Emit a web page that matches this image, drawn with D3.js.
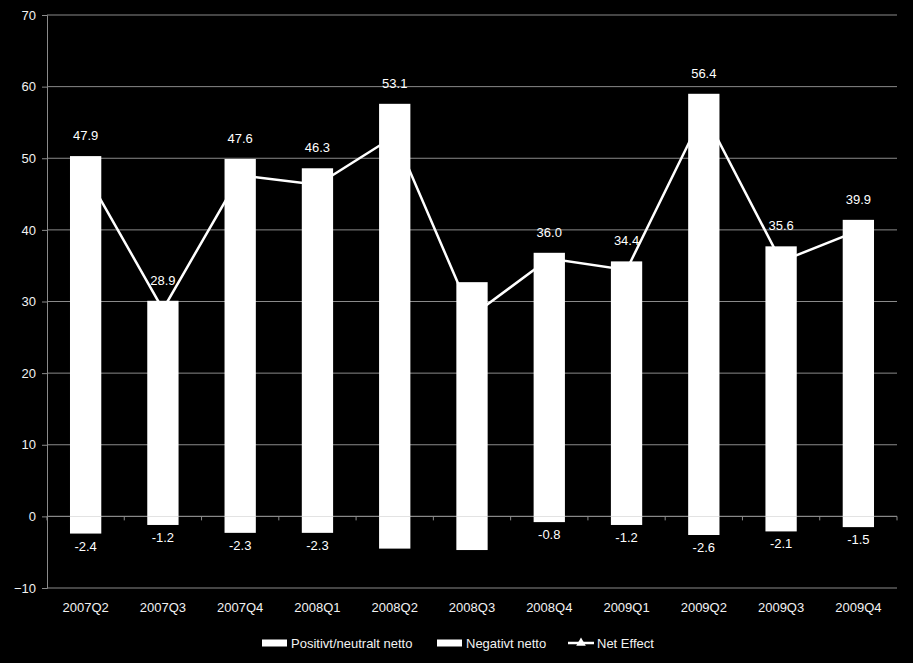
<!DOCTYPE html>
<html>
<head>
<meta charset="utf-8">
<script src="https://cdn.jsdelivr.net/npm/d3@7"></script>
<style>
  body { margin: 0; background: #000; }
  text { font-family: "Liberation Sans", Arial, sans-serif; }
</style>
</head>
<body>
<svg id="chart"></svg>
<script>
// data
const quarters = ["2007Q2", "2007Q3", "2007Q4", "2008Q1", "2008Q2", "2008Q3",
                  "2008Q4", "2009Q1", "2009Q2", "2009Q3", "2009Q4"];
const positive = [50.3, 30.1, 49.9, 48.6, 57.6, 32.7, 36.8, 35.6, 59.0, 37.7, 41.4];
const negative = [-2.4, -1.2, -2.3, -2.3, -4.5, -4.7, -0.8, -1.2, -2.6, -2.1, -1.5];
const netEffect = [47.9, 28.9, 47.6, 46.3, 53.1, 28.0, 36.0, 34.4, 56.4, 35.6, 39.9];
const showNetLabel = [true, true, true, true, true, false, true, true, true, true, true];
const showNegLabel = [true, true, true, true, false, false, true, true, true, true, true];
const yTicks = [-10, 0, 10, 20, 30, 40, 50, 60, 70];
const seriesNames = ["Positivt/neutralt netto", "Negativt netto", "Net Effect"];

// constants
const width = 913;
const height = 663;
const margin = { left: 47, right: 16, top: 15, bottom: 75 };
const visWidth = width - margin.left - margin.right;
const visHeight = height - margin.top - margin.bottom;

const svg = d3.select('svg#chart').attr('width', width).attr('height', height);
svg.append('rect').attr('width', width).attr('height', height).attr('fill', '#000');
const g = svg.append('g').attr('transform', 'translate(' + margin.left + ',' + margin.top + ')');

const x = d3.scaleBand().domain(quarters).range([0, visWidth]).paddingInner(0.595).paddingOuter(0.2975);
const y = d3.scaleLinear().domain([-10, 70]).range([visHeight, 0]);
const cx = i => x(quarters[i]) + x.bandwidth() / 2;
const idx = quarters.map((q, i) => i);

// gridlines
g.append('g').selectAll('line').data(yTicks).enter().append('line')
  .attr('x1', 0).attr('x2', visWidth)
  .attr('y1', d => y(d)).attr('y2', d => y(d))
  .attr('stroke', '#8a8a8a').attr('stroke-width', 1);

// y axis
const yAxis = g.append('g').call(d3.axisLeft(y).tickValues(yTicks).tickSize(5).tickFormat(d3.format('d')));
yAxis.selectAll('path, line').attr('stroke', '#8a8a8a');
yAxis.selectAll('text').attr('fill', '#f2f2f2').style('font-size', '13px').attr('x', -11);

// x axis on the zero line, ticks at band edges
const xAxisG = g.append('g').attr('transform', 'translate(0,' + y(0) + ')');
xAxisG.append('line').attr('x1', 0).attr('x2', visWidth).attr('stroke', '#8a8a8a');
const step = x.step();
xAxisG.selectAll('line.tick').data(d3.range(quarters.length + 1)).enter().append('line')
  .attr('class', 'tick')
  .attr('x1', i => i * step).attr('x2', i => i * step)
  .attr('y1', 0).attr('y2', 4).attr('stroke', '#8a8a8a');

// category labels at the bottom
g.append('g').selectAll('text').data(quarters).enter().append('text')
  .attr('x', d => x(d) + x.bandwidth() / 2)
  .attr('y', visHeight + 24)
  .attr('text-anchor', 'middle')
  .attr('fill', '#f2f2f2').style('font-size', '13px')
  .text(d => d);

// net effect line (drawn behind the bars)
const line = d3.line().x((d, i) => cx(i)).y(d => y(d));
g.append('path').datum(netEffect).attr('d', line)
  .attr('fill', 'none').attr('stroke', '#fff').attr('stroke-width', 2.5);
g.append('g').selectAll('path').data(netEffect).enter().append('path')
  .attr('d', d3.symbol().type(d3.symbolTriangle).size(40))
  .attr('transform', (d, i) => 'translate(' + cx(i) + ',' + y(d) + ')')
  .attr('fill', '#fff');

// bars
g.append('g').selectAll('rect').data(positive).enter().append('rect')
  .attr('x', (d, i) => x(quarters[i])).attr('width', x.bandwidth())
  .attr('y', d => y(d)).attr('height', d => y(0) - y(d))
  .attr('fill', '#fff');
g.append('g').selectAll('rect').data(negative).enter().append('rect')
  .attr('x', (d, i) => x(quarters[i])).attr('width', x.bandwidth())
  .attr('y', y(0)).attr('height', d => y(d) - y(0))
  .attr('fill', '#fff');

// data labels
g.append('g').selectAll('text').data(idx.filter(i => showNetLabel[i])).enter()
  .append('text')
  .attr('x', i => cx(i))
  .attr('y', i => y(positive[i]) - 16)
  .attr('text-anchor', 'middle').attr('fill', '#fff').style('font-size', '13px')
  .text(i => netEffect[i].toFixed(1));
g.append('g').selectAll('text').data(idx.filter(i => showNegLabel[i])).enter()
  .append('text')
  .attr('x', i => cx(i))
  .attr('y', i => y(negative[i]) + 17)
  .attr('text-anchor', 'middle').attr('fill', '#fff').style('font-size', '13px')
  .text(i => negative[i].toFixed(1));

// legend
const legend = svg.append('g').attr('transform', 'translate(0,643)');
const legendX = [262, 437, 568];
seriesNames.forEach(function(name, i) {
  const item = legend.append('g').attr('transform', 'translate(' + legendX[i] + ',0)');
  if (i < 2) {
    item.append('rect').attr('x', 0).attr('y', -3.5).attr('width', 25).attr('height', 7).attr('fill', '#fff');
  } else {
    item.append('line').attr('x1', 0).attr('x2', 26).attr('stroke', '#fff').attr('stroke-width', 2.5);
    item.append('path').attr('d', d3.symbol().type(d3.symbolTriangle).size(40))
      .attr('transform', 'translate(13,0)').attr('fill', '#fff');
  }
  item.append('text').attr('x', 29).attr('y', 4.5)
    .attr('fill', '#f2f2f2').style('font-size', '13px').text(name);
});
</script>
</body>
</html>
